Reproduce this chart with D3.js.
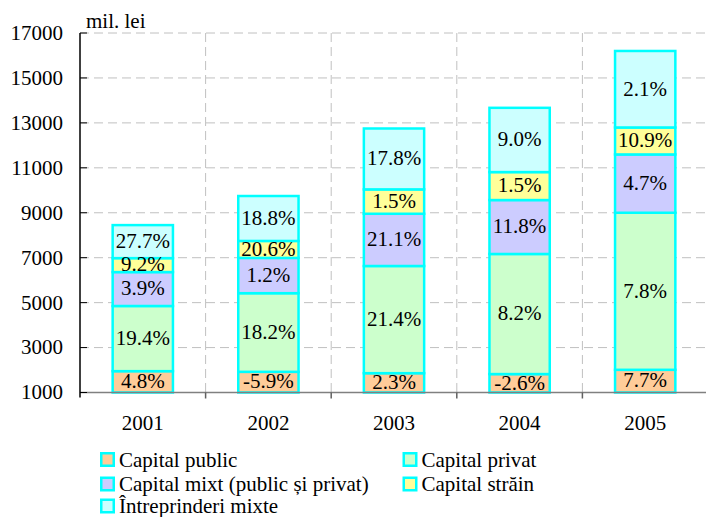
<!DOCTYPE html>
<html>
<head>
<meta charset="utf-8">
<script src="https://cdn.jsdelivr.net/npm/d3@7"></script>
<style>
  body { margin: 0; background: #fff; }
</style>
</head>
<body>
<svg id="chart" width="706" height="517"></svg>
<script>
// years on the x axis
const years = ["2001", "2002", "2003", "2004", "2005"];

// stacked values, mil. lei
const capitalPublic = [1950, 1920, 1860, 1820, 2010];
const capitalPrivat = [2900, 3500, 4770, 5345, 6990];
const capitalMixt = [1510, 1570, 2325, 2400, 2595];
const capitalStrain = [620, 755, 1085, 1245, 1200];
const intreprinderiMixte = [1470, 2000, 2710, 2860, 3405];

// percentage labels printed on each segment
const labelsPublic = ["4.8%", "-5.9%", "2.3%", "-2.6%", "7.7%"];
const labelsPrivat = ["19.4%", "18.2%", "21.4%", "8.2%", "7.8%"];
const labelsMixt = ["3.9%", "1.2%", "21.1%", "11.8%", "4.7%"];
const labelsStrain = ["9.2%", "20.6%", "1.5%", "1.5%", "10.9%"];
const labelsIntreprinderi = ["27.7%", "18.8%", "17.8%", "9.0%", "2.1%"];

const yTicks = [1000, 3000, 5000, 7000, 9000, 11000, 13000, 15000, 17000];

const series = [
  { name: "Capital public", values: capitalPublic, labels: labelsPublic, color: "#ffcc99" },
  { name: "Capital privat", values: capitalPrivat, labels: labelsPrivat, color: "#ccffcc" },
  { name: "Capital mixt (public și privat)", values: capitalMixt, labels: labelsMixt, color: "#ccccff" },
  { name: "Capital străin", values: capitalStrain, labels: labelsStrain, color: "#ffff99" },
  { name: "Întreprinderi mixte", values: intreprinderiMixte, labels: labelsIntreprinderi, color: "#ccffff" }
];

const fontFamily = "'Liberation Serif', 'DejaVu Serif', serif";
const svg = d3.select("#chart").attr("font-family", fontFamily);
const plotLeft = 80, plotRight = 708, plotTop = 33, plotBottom = 392.5;
const fontSize = 21;

const x = d3.scaleBand()
  .domain(years)
  .range([plotLeft, plotRight])
  .paddingInner(0.52)
  .paddingOuter(0.26);

const y = d3.scaleLinear().domain([1000, 17000]).range([plotBottom, plotTop]);

// build stack table
const table = years.map((yr, i) => {
  const row = { year: yr };
  series.forEach(s => (row[s.name] = s.values[i]));
  return row;
});
const stacked = d3.stack().keys(series.map(s => s.name))(table);

// horizontal grid
svg.append("g")
  .selectAll("line")
  .data(yTicks.slice(1))
  .join("line")
  .attr("x1", plotLeft)
  .attr("x2", 706)
  .attr("y1", d => y(d))
  .attr("y2", d => y(d))
  .attr("stroke", "#c0c0c0")
  .attr("stroke-width", 1)
  .attr("stroke-dasharray", "9,5");

// vertical grid at category boundaries
const step = x.step();
const bounds = years.slice(1).map((yr, i) => plotLeft + step * (i + 1));
svg.append("g")
  .selectAll("line")
  .data(bounds)
  .join("line")
  .attr("x1", d => d)
  .attr("x2", d => d)
  .attr("y1", plotTop)
  .attr("y2", plotBottom)
  .attr("stroke", "#c0c0c0")
  .attr("stroke-width", 1)
  .attr("stroke-dasharray", "9,5");

// bars
const layers = svg.append("g")
  .selectAll("g")
  .data(stacked)
  .join("g")
  .attr("fill", (d, i) => series[i].color);

layers.selectAll("rect")
  .data(d => d)
  .join("rect")
  .attr("x", d => x(d.data.year))
  .attr("width", x.bandwidth())
  .attr("y", d => y(d[1]))
  .attr("height", d => y(Math.max(d[0], 1000)) - y(d[1]))
  .attr("stroke", "#00ffff")
  .attr("stroke-width", 2.5);

// segment labels
stacked.forEach((layer, si) => {
  svg.append("g")
    .selectAll("text")
    .data(layer)
    .join("text")
    .attr("x", d => x(d.data.year) + x.bandwidth() / 2)
    .attr("y", d => (y(Math.max(d[0], 1000)) + y(d[1])) / 2)
    .attr("dy", "0.3em")
    .attr("text-anchor", "middle")
    .attr("font-size", fontSize)
    .attr("fill", "#000")
    .text((d, i) => series[si].labels[i]);
});

// x axis
svg.append("line")
  .attr("x1", plotLeft).attr("x2", 706)
  .attr("y1", plotBottom).attr("y2", plotBottom)
  .attr("stroke", "#808080").attr("stroke-width", 1.5);
svg.append("g")
  .selectAll("line")
  .data(bounds)
  .join("line")
  .attr("x1", d => d).attr("x2", d => d)
  .attr("y1", plotBottom).attr("y2", plotBottom + 6)
  .attr("stroke", "#606060").attr("stroke-width", 1.5);
svg.append("g")
  .selectAll("text")
  .data(years)
  .join("text")
  .attr("x", d => x(d) + x.bandwidth() / 2)
  .attr("y", 430)
  .attr("text-anchor", "middle")
  .attr("font-size", fontSize)
  .text(d => d);

// y axis
svg.append("line")
  .attr("x1", plotLeft).attr("x2", plotLeft)
  .attr("y1", plotTop).attr("y2", plotBottom + 5)
  .attr("stroke", "#000").attr("stroke-width", 1.5);
svg.append("g")
  .selectAll("line")
  .data(yTicks)
  .join("line")
  .attr("x1", plotLeft).attr("x2", plotLeft + 7)
  .attr("y1", d => y(d)).attr("y2", d => y(d))
  .attr("stroke", "#000").attr("stroke-width", 1);
svg.append("g")
  .selectAll("text")
  .data(yTicks)
  .join("text")
  .attr("x", 63)
  .attr("y", d => y(d))
  .attr("dy", "0.33em")
  .attr("text-anchor", "end")
  .attr("font-size", fontSize)
  .text(d => d);

svg.append("text")
  .attr("x", 86)
  .attr("y", 28)
  .attr("font-size", fontSize)
  .text("mil. lei");

// legend
const legendPos = [
  [100, 466.5], [402.5, 466.5],
  [100, 491], [402.5, 491],
  [100, 513]
];
const legend = svg.append("g")
  .selectAll("g")
  .data(series)
  .join("g")
  .attr("transform", (d, i) => `translate(${legendPos[i][0]},${legendPos[i][1]})`);
legend.append("rect")
  .attr("x", 1.25).attr("y", -13.25)
  .attr("width", 12.5).attr("height", 12.5)
  .attr("fill", d => d.color)
  .attr("stroke", "#00ffff")
  .attr("stroke-width", 2.5);
legend.append("text")
  .attr("x", 19)
  .attr("font-size", fontSize)
  .text(d => d.name);
</script>
</body>
</html>
